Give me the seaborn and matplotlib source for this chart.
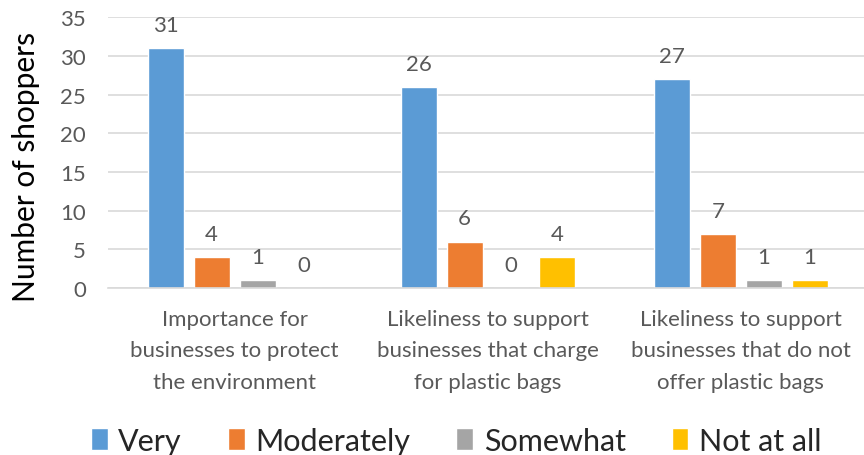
import matplotlib
matplotlib.use("Agg")
import matplotlib.pyplot as plt
import seaborn as sns
import pandas as pd

categories = [
    "Importance for\nbusinesses to protect\nthe environment",
    "Likeliness to support\nbusinesses that charge\nfor plastic bags",
    "Likeliness to support\nbusinesses that do not\noffer plastic bags",
]
series_names = ["Very", "Moderately", "Somewhat", "Not at all"]
very = [31, 26, 27]
moderately = [4, 6, 7]
somewhat = [1, 0, 1]
not_at_all = [0, 4, 1]
colors = ["#5B9BD5", "#ED7D31", "#A5A5A5", "#FFC000"]
y_ticks = [0, 5, 10, 15, 20, 25, 30, 35]

rows = []
for name, vals in zip(series_names, [very, moderately, somewhat, not_at_all]):
    for cat, v in zip(categories, vals):
        rows.append({"category": cat, "series": name, "value": v})
df = pd.DataFrame(rows)

sns.set_theme(style="white")
plt.rcParams["font.family"] = ["Lato", "DejaVu Sans"]

fig = plt.figure(figsize=(8.64, 4.56), dpi=100)
ax = fig.add_axes([0.125, 0.366, 0.879, 0.5943])

sns.barplot(data=df, x="category", y="value", hue="series", order=categories,
            hue_order=series_names, palette=colors, width=0.727, gap=0.22,
            saturation=1, ax=ax, legend=True, errorbar=None)

for cont in ax.containers:
    ax.bar_label(cont, padding=9.5, fontsize=16, color="#595959")

ax.set_ylim(0, 35)
ax.set_yticks(y_ticks)
ax.set_xlim(-0.5, 2.5)
ax.yaxis.grid(True, color="#D9D9D9", linewidth=1.2)
ax.set_axisbelow(True)
for s in ["top", "right", "left"]:
    ax.spines[s].set_visible(False)
ax.spines["bottom"].set_color("#D9D9D9")
ax.spines["bottom"].set_linewidth(1.2)
ax.tick_params(axis="y", length=0, pad=16, labelsize=16, labelcolor="#595959")
ax.tick_params(axis="x", length=0, pad=15, labelsize=16, labelcolor="#595959")
for lbl in ax.get_xticklabels():
    lbl.set_linespacing(1.72)
ax.set_xlabel("")
ax.set_ylabel("Number of shoppers", fontsize=21.5, color="black")
ax.yaxis.set_label_coords(-0.09, 0.45)

handles, labels = ax.get_legend_handles_labels()
ax.legend_.remove()
fig.legend(handles, labels, loc="lower center", bbox_to_anchor=(0.528, -0.06),
           ncol=4, frameon=False, fontsize=22, handlelength=0.55, handleheight=0.7,
           handletextpad=0.35, columnspacing=1.5)

fig.savefig("out.png", dpi=100)
